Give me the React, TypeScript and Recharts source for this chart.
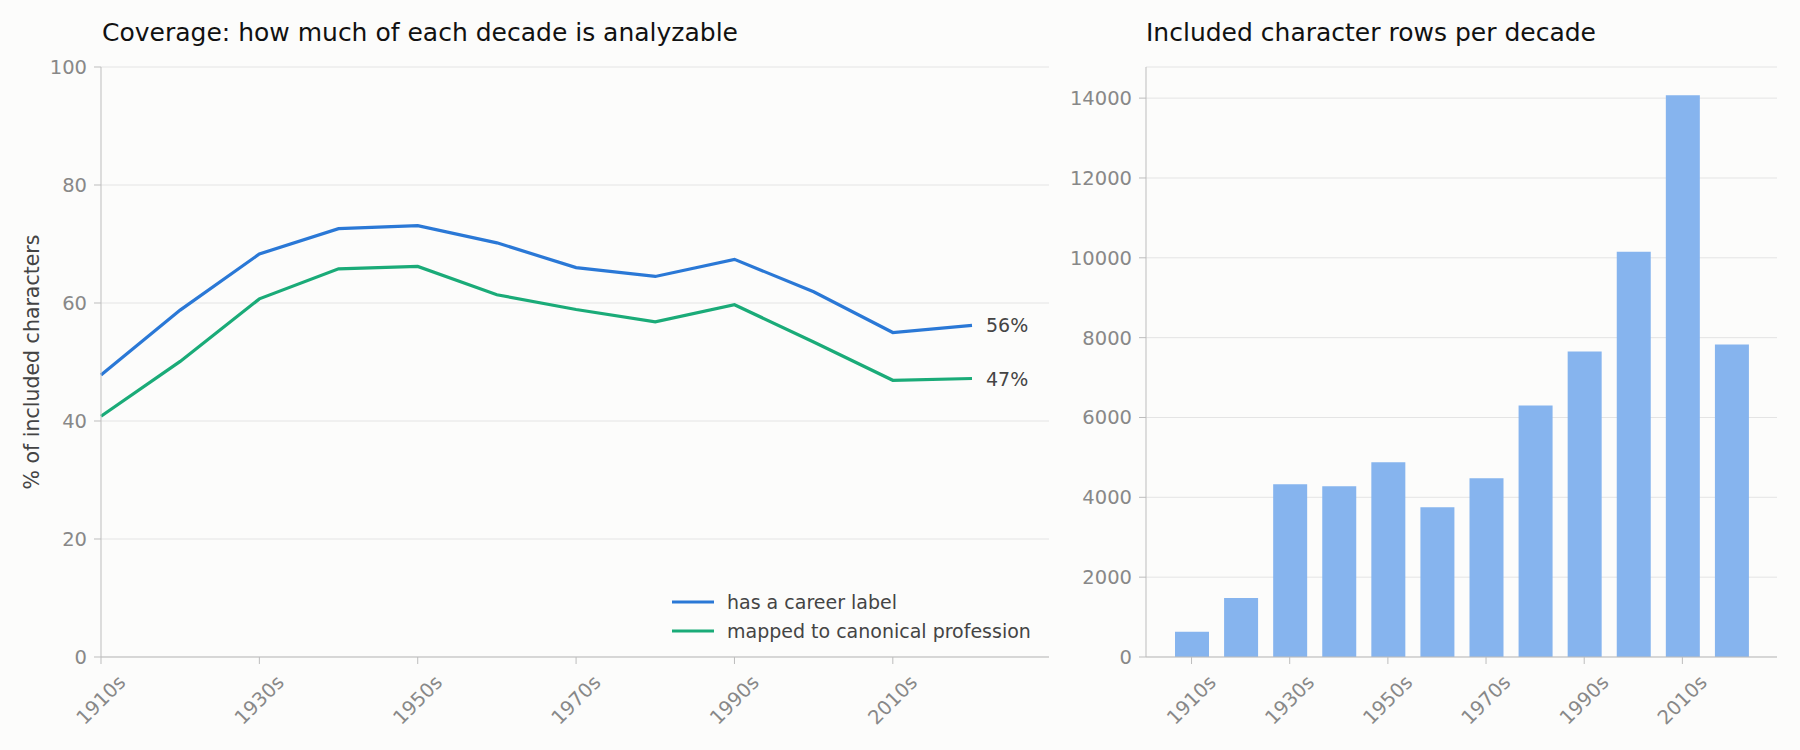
import React from 'react'
import {
  LineChart,
  Line,
  BarChart,
  Bar,
  XAxis,
  YAxis,
  CartesianGrid
} from 'recharts'

const decades = ['1910s', '1920s', '1930s', '1940s', '1950s', '1960s', '1970s', '1980s', '1990s', '2000s', '2010s', '2020s']
// % of included characters per decade
const careerPct = [47.8, 58.8, 68.3, 72.6, 73.1, 70.2, 66.0, 64.5, 67.4, 61.9, 55.0, 56.2]
const canonicalPct = [40.8, 50.1, 60.7, 65.8, 66.2, 61.4, 58.9, 56.8, 59.7, 53.4, 46.9, 47.2]
// included character rows per decade
const includedRows = [630, 1480, 4330, 4280, 4880, 3750, 4480, 6300, 7650, 10150, 14070, 7830]

const pctTicks = [0, 20, 40, 60, 80, 100]
const rowTicks = [0, 2000, 4000, 6000, 8000, 10000, 12000, 14000]

const FONT = '"DejaVu Sans", sans-serif'
const BLUE = '#2a78d6'
const GREEN = '#1aab78'
const BAR = '#86b4ee'
const AXIS = '#bdbdbd'
const GRID = '#e4e4e4'
const TICK = '#888888'
const TICK_FS = 19.5

const coverageData = decades.map((d, i) => ({ decade: d, career: careerPct[i], canonical: canonicalPct[i] }))
const rowsData = decades.map((d, i) => ({ decade: d, rows: includedRows[i] }))

const series = [
  { key: 'career', name: 'has a career label', color: BLUE },
  { key: 'canonical', name: 'mapped to canonical profession', color: GREEN }
]

function RotatedTick(props: any) {
  const { x, y, payload } = props
  const cy = y + 34
  return (
    <text
      x={x}
      y={cy}
      transform={`rotate(-45 ${x} ${cy})`}
      textAnchor="middle"
      dominantBaseline="central"
      fill={TICK}
      fontSize={TICK_FS}
      fontFamily={FONT}
    >
      {payload.value}
    </text>
  )
}

function endLabel(props: any) {
  const { x, y, index, value } = props
  if (index !== decades.length - 1) return null
  return (
    <text x={x + 14} y={y} dominantBaseline="central" fill="#444" fontSize={19} fontFamily={FONT}>
      {`${Math.round(value)}%`}
    </text>
  )
}

const titleStyle: React.CSSProperties = {
  position: 'absolute',
  top: 18,
  fontFamily: FONT,
  fontSize: 25,
  lineHeight: '30px',
  color: '#111',
  whiteSpace: 'nowrap'
}

export default function App() {
  return (
    <div style={{ position: 'absolute', left: 0, top: 0, width: 1800, height: 750, background: '#fcfcfb', overflow: 'hidden' }}>
      <div style={{ ...titleStyle, left: 102 }}>Coverage: how much of each decade is analyzable</div>
      <div style={{ ...titleStyle, left: 1146 }}>Included character rows per decade</div>

      <div style={{ position: 'absolute', left: 0, top: 0 }}>
        <LineChart width={1060} height={750} data={coverageData} margin={{ top: 67, right: 11, bottom: 33, left: 41 }}>
          <CartesianGrid vertical={false} stroke={GRID} />
          <XAxis
            dataKey="decade"
            interval={1}
            padding={{ left: 0, right: 77 }}
            height={60}
            stroke={AXIS}
            tickSize={7}
            tick={<RotatedTick />}
          />
          <YAxis
            domain={[0, 100]}
            ticks={pctTicks}
            width={60}
            stroke={AXIS}
            tickSize={7}
            tickMargin={7}
            tick={{ fill: TICK, fontSize: TICK_FS, fontFamily: FONT }}
            label={{
              content: (p: any) => {
                const vb = p.viewBox
                const cy = vb.y + vb.height / 2
                return (
                  <text
                    x={32}
                    y={cy}
                    transform={`rotate(-90 32 ${cy})`}
                    textAnchor="middle"
                    dominantBaseline="central"
                    fill="#444"
                    fontSize={20.5}
                    fontFamily={FONT}
                  >
                    % of included characters
                  </text>
                )
              }
            }}
          />
          {series.map(s => (
            <Line
              key={s.key}
              type="linear"
              dataKey={s.key}
              name={s.name}
              stroke={s.color}
              strokeWidth={3.2}
              dot={false}
              activeDot={false}
              isAnimationActive={false}
              label={endLabel}
            />
          ))}
        </LineChart>
      </div>

      {/* legend, lower right of the coverage panel */}
      <div style={{ position: 'absolute', left: 672, top: 587, fontFamily: FONT, fontSize: 19, color: '#444' }}>
        {series.map(s => (
          <div key={s.key} style={{ display: 'flex', alignItems: 'center', height: 29, whiteSpace: 'nowrap' }}>
            <svg width={42} height={6} style={{ marginRight: 13 }}>
              <line x1={0} y1={3} x2={42} y2={3} stroke={s.color} strokeWidth={3.2} />
            </svg>
            <span>{s.name}</span>
          </div>
        ))}
      </div>

      <div style={{ position: 'absolute', left: 1060, top: 0 }}>
        <BarChart width={740} height={750} data={rowsData} margin={{ top: 67, right: 23, bottom: 33, left: 16 }}>
          <CartesianGrid vertical={false} stroke={GRID} />
          <XAxis
            dataKey="decade"
            interval={1}
            padding={{ left: 21, right: 21 }}
            height={60}
            stroke={AXIS}
            tickSize={7}
            tick={<RotatedTick />}
          />
          <YAxis
            domain={[0, 14780]}
            ticks={rowTicks}
            width={70}
            stroke={AXIS}
            tickSize={7}
            tickMargin={7}
            tick={{ fill: TICK, fontSize: TICK_FS, fontFamily: FONT }}
          />
          <Bar dataKey="rows" fill={BAR} barSize={34} isAnimationActive={false} />
        </BarChart>
      </div>
    </div>
  )
}
